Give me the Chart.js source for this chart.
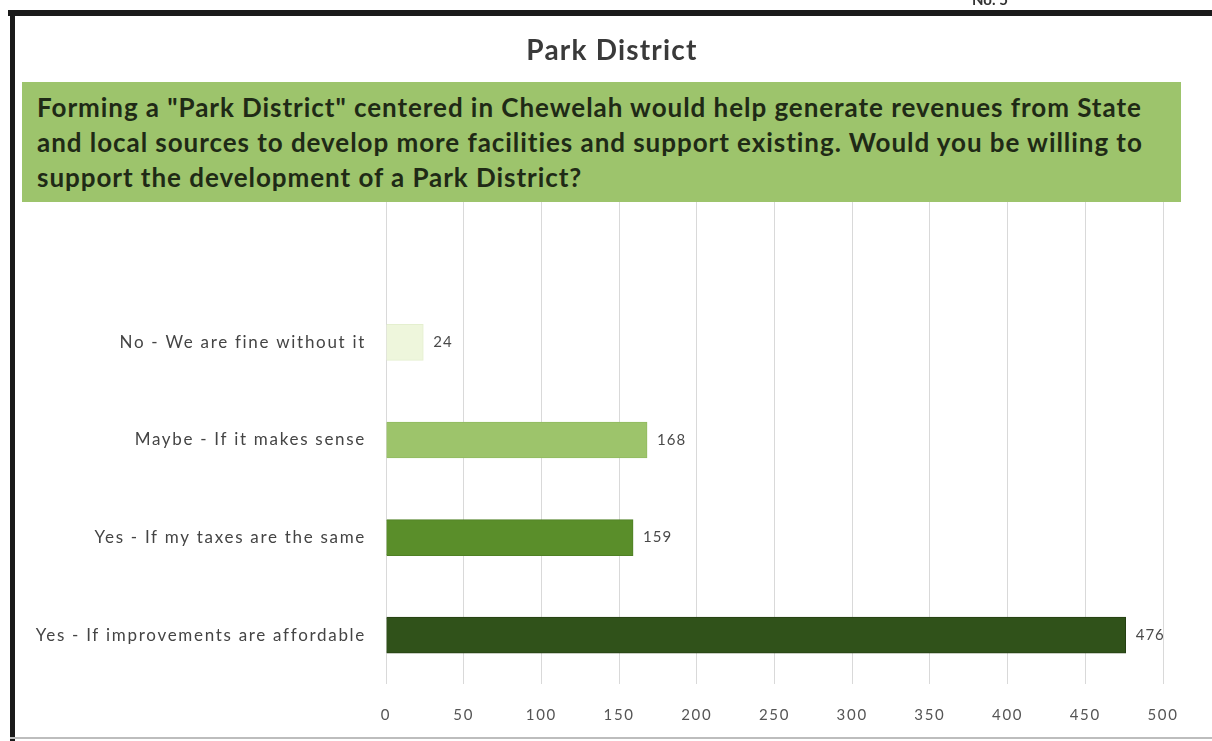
<!DOCTYPE html>
<html>
<head>
<meta charset="utf-8">
<script src="https://cdn.jsdelivr.net/npm/chart.js@4.4.1/dist/chart.umd.min.js"></script>
<style>
  html, body { margin:0; padding:0; background:#fff; }
  body { width:1212px; height:741px; position:relative; overflow:hidden; font-family: Lato, "Open Sans", sans-serif; }
  #wrap { position:absolute; left:0; top:0; width:1212px; height:741px; }
  #frameTop { position:absolute; left:8px; top:10px; width:1204px; height:6px; background:#1a1a1a; }
  #frameLeft { position:absolute; left:10px; top:10px; width:5px; height:731px; background:#1a1a1a; }
  #frameBottom { position:absolute; left:10px; top:737px; width:1202px; height:2px; background:#bdbdbd; }
  #corner { position:absolute; left:972px; top:-10px; font-size:15px; font-weight:bold; color:#333; }
  #title { position:absolute; left:0; width:1224px; top:32px; text-align:center; font-size:28px; font-weight:bold; color:#3a3a3a; letter-spacing:1.2px; }
  #box { position:absolute; left:22px; top:82px; width:1159px; height:120px; background:#9dc46c; box-sizing:border-box; padding:8px 0 0 15px; }
  #box div { font-size:26px; font-weight:bold; color:#1f2a16; line-height:35px; white-space:nowrap; letter-spacing:0.95px; }
</style>
</head>
<body>
<div id="wrap"><canvas id="c" width="1212" height="741"></canvas></div>
<div id="frameTop"></div>
<div id="frameLeft"></div>
<div id="frameBottom"></div>
<div id="corner">No. 5</div>
<div id="title">Park District</div>
<div id="box">
  <div>Forming a "Park District" centered in Chewelah would help generate revenues from State</div>
  <div>and local sources to develop more facilities and support existing. Would you be willing to</div>
  <div>support the development of a Park District?</div>
</div>
<script>
const categories = ["", "No - We are fine without it", "Maybe - If it makes sense", "Yes - If my taxes are the same", "Yes - If improvements are affordable"];
const values = [null, 24, 168, 159, 476];
const tickValues = [0, 50, 100, 150, 200, 250, 300, 350, 400, 450, 500];
const barColors = ["#ffffff", "#eef6dc", "#9dc46b", "#5a8e2a", "#30521a"];
const borderColors = ["#ffffff", "#e4efcf", "#92bb60", "#4f8024", "#243f12"];

const spacing = {
  id: 'spacing',
  beforeInit(chart) { chart.ctx.letterSpacing = '1.7px'; },
  beforeDraw(chart) { chart.ctx.letterSpacing = '1.7px'; }
};

const valueLabels = {
  id: 'valueLabels',
  afterDatasetsDraw(chart) {
    const ctx = chart.ctx;
    const meta = chart.getDatasetMeta(0);
    ctx.save();
    ctx.letterSpacing = '1px';
    ctx.font = '15px Lato, "Open Sans", sans-serif';
    ctx.fillStyle = '#4a4a4a';
    ctx.textAlign = 'left';
    ctx.textBaseline = 'middle';
    meta.data.forEach((bar, i) => {
      if (values[i] === null) return;
      ctx.fillText(String(values[i]), bar.x + 10, bar.y);
    });
    ctx.restore();
  }
};

new Chart(document.getElementById('c'), {
  type: 'bar',
  data: {
    labels: categories,
    datasets: [{
      data: values,
      backgroundColor: barColors,
      borderColor: borderColors,
      borderWidth: 1,
      barThickness: 36
    }]
  },
  options: {
    indexAxis: 'y',
    responsive: false,
    animation: false,
    layout: { padding: { left: 0, right: 49, top: 196, bottom: 7 } },
    plugins: { legend: { display: false }, tooltip: { enabled: false } },
    scales: {
      x: {
        min: 0, max: 500,
        afterBuildTicks(scale) { scale.ticks = tickValues.map(v => ({ value: v })); },
        afterFit(scale) { scale.height = 50; },
        grid: { color: '#d9d9d9', drawTicks: false },
        border: { display: false },
        ticks: { padding: 22, color: '#555', font: { family: 'Lato, "Open Sans", sans-serif', size: 15 } }
      },
      y: {
        afterFit(scale) { scale.width = 386; },
        grid: { display: false, drawTicks: false },
        border: { display: false },
        ticks: { padding: 20, color: '#444', font: { family: 'Lato, "Open Sans", sans-serif', size: 17 } }
      }
    }
  },
  plugins: [spacing, valueLabels]
});
</script>
</body>
</html>
